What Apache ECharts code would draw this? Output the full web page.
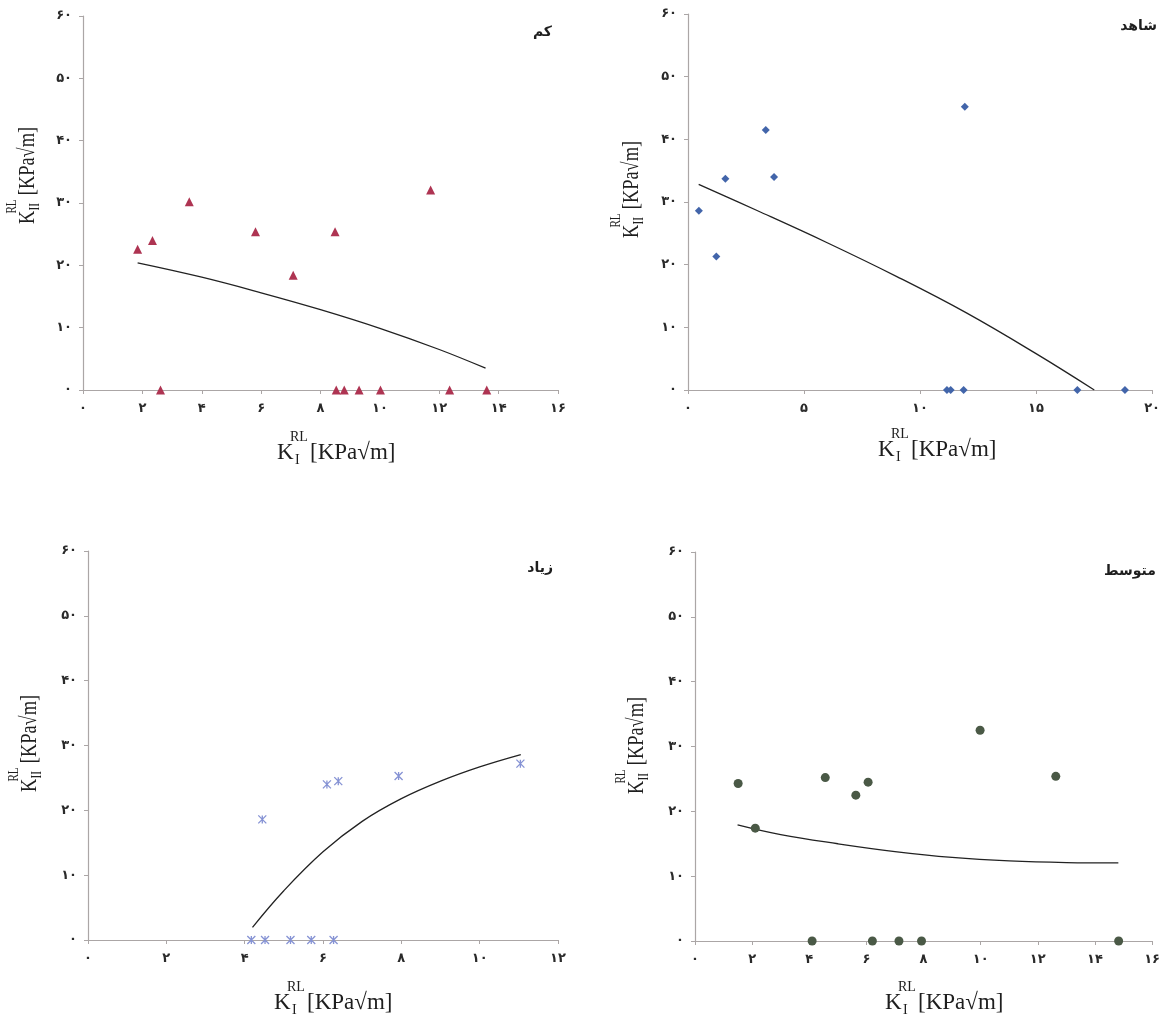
<!DOCTYPE html>
<html>
<head>
<meta charset="utf-8">
<script src="https://cdn.jsdelivr.net/npm/echarts@6/dist/echarts.min.js"></script>
<style>
html,body{margin:0;padding:0;background:#fff;}
#chart{width:1163px;height:1019px;}
</style>
</head>
<body>
<div id="chart"></div>
<script>
// ---------- DATA ----------
const panelTitles = ['کم', 'شاهد', 'زیاد', 'متوسط'];
const persianDigits = '۰۱۲۳۴۵۶۷۸۹';

// کم (low)
const lowKI  = [1.84, 2.34, 3.58, 5.81, 7.08, 8.49, 11.71, 2.61, 8.53, 8.80, 9.30, 10.02, 12.35, 13.60];
const lowKII = [22.6, 24.0, 30.2, 25.4, 18.4, 25.4, 32.1, 0, 0, 0, 0, 0, 0, 0];
const lowFitKI  = [1.84, 4, 6, 8, 10, 12, 13.56];
const lowFitKII = [20.4, 18.1, 15.6, 12.9, 9.9, 6.5, 3.5];

// شاهد (control)
const ctrlKI  = [0.47, 1.22, 1.61, 3.35, 3.71, 11.93, 11.16, 11.32, 11.88, 16.78, 18.83];
const ctrlKII = [28.6, 21.3, 33.7, 41.5, 34.0, 45.2, 0, 0, 0, 0, 0];
const ctrlFitKI  = [0.46, 3, 6, 9, 12, 15, 17.51];
const ctrlFitKII = [32.8, 28.6, 23.5, 18.1, 12.3, 5.8, 0];

// زیاد (high)
const highKI  = [4.45, 6.10, 6.39, 7.93, 11.04, 4.17, 4.52, 5.17, 5.70, 6.27];
const highKII = [18.6, 24.0, 24.5, 25.3, 27.2, 0, 0, 0, 0, 0];
const highFitKI  = [4.2, 5, 6, 7, 8, 9, 10, 11.05];
const highFitKII = [1.95, 7.6, 13.6, 18.3, 21.8, 24.5, 26.7, 28.6];

// متوسط (medium)
const medKI  = [1.51, 2.11, 4.56, 5.63, 6.06, 9.98, 12.63, 4.10, 6.21, 7.14, 7.93, 14.83];
const medKII = [24.3, 17.4, 25.2, 22.5, 24.5, 32.5, 25.4, 0, 0, 0, 0, 0];
const medFitKI  = [1.49, 3, 5, 7, 9, 11, 13, 14.82];
const medFitKII = [17.9, 16.4, 15.0, 13.8, 12.9, 12.35, 12.1, 12.05];

// axis ranges
const xMax = [16, 20, 12, 16];
const xInterval = [2, 5, 2, 2];
const yMax = 60, yInterval = 10;

// ---------- BUILD ----------
const zip = (a, b) => a.map((v, i) => [v, b[i]]);
const toFa = v => String(v).replace(/\d/g, d => persianDigits[+d]);

const grids = [
  {left: 83, top: 16, width: 475, height: 374},
  {left: 688, top: 14, width: 469, height: 376},
  {left: 88, top: 551, width: 470, height: 389},
  {left: 695, top: 552, width: 458, height: 389}
];

const axisCommon = {
  axisLine: {show: true, onZero: false, lineStyle: {color: '#aba6a6', width: 1.2}},
  axisTick: {show: true, length: 4, lineStyle: {color: '#aba6a6'}},
  splitLine: {show: false},
  axisLabel: {formatter: toFa, fontFamily: 'DejaVu Sans', fontWeight: 'bold', fontSize: 13, color: '#2a2a2a'}
};

const xAxes = grids.map((g, i) => Object.assign({}, axisCommon, {
  type: 'value', gridIndex: i, min: 0, max: xMax[i], interval: xInterval[i],
  axisLabel: Object.assign({}, axisCommon.axisLabel, {margin: 12})
}));
const yAxes = grids.map((g, i) => Object.assign({}, axisCommon, {
  type: 'value', gridIndex: i, min: 0, max: yMax, interval: yInterval,
  axisLabel: Object.assign({}, axisCommon.axisLabel, {margin: 11})
}));

const starPath = 'path://M0,0L10,10M10,0L0,10M5,0L5,10';
const scatterDefs = [
  {data: zip(lowKI, lowKII), symbol: 'triangle', symbolSize: 9, itemStyle: {color: '#AE3452', opacity: 1}},
  {data: zip(ctrlKI, ctrlKII), symbol: 'diamond', symbolSize: 8, itemStyle: {color: '#4265AA', opacity: 1}},
  {data: zip(highKI, highKII), symbol: starPath, symbolSize: 8,
   itemStyle: {color: 'rgba(0,0,0,0)', borderColor: '#8592D4', borderWidth: 1.3, opacity: 1}},
  {data: zip(medKI, medKII), symbol: 'circle', symbolSize: 9, itemStyle: {color: '#4A5946', opacity: 1}}
];
const fits = [zip(lowFitKI, lowFitKII), zip(ctrlFitKI, ctrlFitKII), zip(highFitKI, highFitKII), zip(medFitKI, medFitKII)];

const series = [];
scatterDefs.forEach((s, i) => {
  series.push({
    type: 'line', xAxisIndex: i, yAxisIndex: i, data: fits[i], smooth: 0.4,
    showSymbol: false, symbol: 'none', silent: true, z: 1,
    lineStyle: {color: '#222', width: 1.3}
  });
  series.push(Object.assign({type: 'scatter', xAxisIndex: i, yAxisIndex: i, z: 3}, s));
});

// axis title helper (K with RL superscript and I/II subscript)
function kTitle(x, y, sub, rotated, sx) {
  const base = {fill: '#1e1e1e', verticalAlign: 'middle', textVerticalAlign: 'middle', align: 'left', textAlign: 'left'};
  const big = '23px "Liberation Serif"', small = '14px "Liberation Serif"';
  const subX = sub.length > 1 ? 17 : 18;
  const bracketX = sub.length > 1 ? 36 : 33;
  return {
    type: 'group', x: x, y: y, rotation: rotated ? Math.PI / 2 : 0, scaleX: sx, scaleY: 1,
    children: [
      {type: 'text', x: 0, y: 0, style: Object.assign({text: 'K', font: big}, base)},
      {type: 'text', x: 13, y: -16, style: Object.assign({text: 'RL', font: small}, base)},
      {type: 'text', x: subX, y: 7, style: Object.assign({text: sub, font: small}, base)},
      {type: 'text', x: bracketX, y: 0, style: Object.assign({text: '[KPa√m]', font: big}, base)}
    ]
  };
}

const graphic = [
  kTitle(277, 453, 'I', false, 1),
  kTitle(878, 450, 'I', false, 1),
  kTitle(274, 1003, 'I', false, 1),
  kTitle(885, 1003, 'I', false, 1),
  kTitle(28, 224, 'II', true, 0.8),
  kTitle(632, 238, 'II', true, 0.8),
  kTitle(30, 792, 'II', true, 0.8),
  kTitle(637, 794, 'II', true, 0.8)
];

const titleStyle = {fontFamily: 'DejaVu Sans', fontWeight: 'bold', fontSize: 14, color: '#1e1e1e'};
const titles = [
  {text: panelTitles[0], right: 611, top: 25},
  {text: panelTitles[1], right: 6, top: 19},
  {text: panelTitles[2], right: 610, top: 561},
  {text: panelTitles[3], right: 7, top: 564}
].map(t => Object.assign({textStyle: titleStyle, padding: 0}, t));

const chart = echarts.init(document.getElementById('chart'), null, {renderer: 'canvas'});
chart.setOption({
  backgroundColor: '#fff',
  animation: false,
  title: titles,
  grid: grids,
  xAxis: xAxes,
  yAxis: yAxes,
  series: series,
  graphic: graphic
});
</script>
</body>
</html>
